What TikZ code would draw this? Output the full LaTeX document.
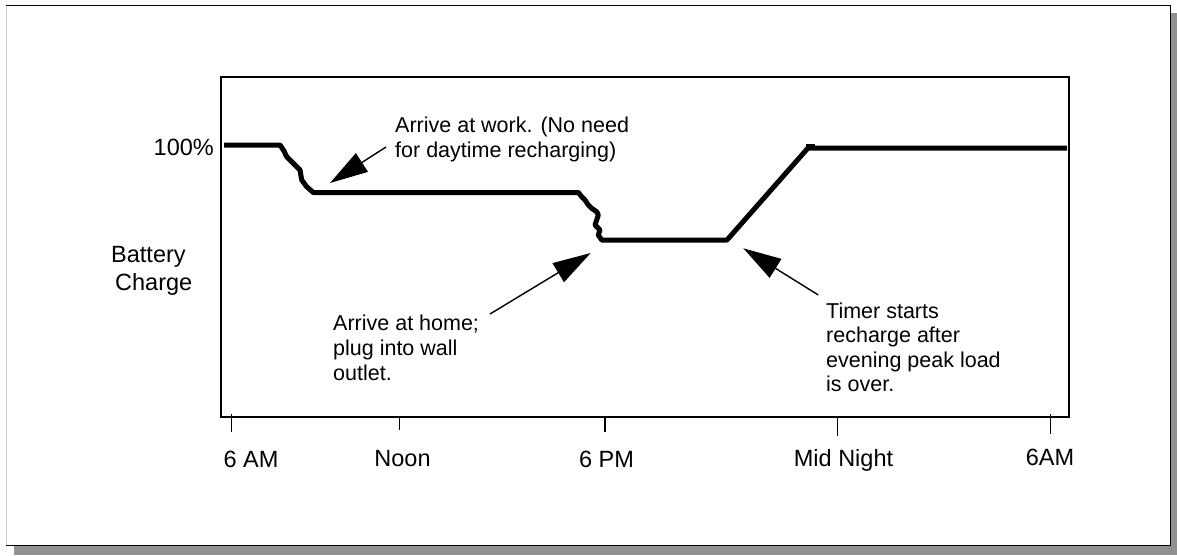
\documentclass[tikz,border=0pt]{standalone}
\usepackage{fontspec}
\setmainfont{Liberation Sans}
\usetikzlibrary{arrows.meta}
\definecolor{shadowgray}{RGB}{145,145,145}
\definecolor{edgegray}{RGB}{205,205,205}
\begin{document}
\begin{tikzpicture}[x=1pt,y=-1pt,
  axlab/.style={font=\fontsize{23.5}{28}\selectfont, inner sep=0pt},
  note/.style={font=\fontsize{21.5}{25}\selectfont, inner sep=0pt, anchor=base west},
  chargeline/.style={line width=5pt, line join=round},
  callout/.style={line width=1.4pt, -{Triangle[length=38pt,width=22pt]}},
  tickmark/.style={line width=1.3pt},
  plotbox/.style={line width=1.3pt}]
\useasboundingbox (0,0) rectangle (1177,555);
% frame with shadow
\fill[white] (0,0) rectangle (1177,555);
\fill[shadowgray] (14,13) rectangle (1177,555);
\fill[white] (6,5) rectangle (1170,545);
\draw[line width=1pt] (6,5) -- (1170,5) -- (1170,545) -- (6,545);
\draw[line width=1pt, edgegray] (6,5.5) -- (6,544.5);
% plot box
\coordinate (tl) at (221,77);
\coordinate (br) at (1069,417);
\draw[plotbox] (tl) rectangle (br);
% ticks
\coordinate (k1a) at (231.7,414); \coordinate (k1b) at (231.7,432);
\coordinate (k2a) at (399.7,417); \coordinate (k2b) at (399.7,430);
\coordinate (k3a) at (605,417);   \coordinate (k3b) at (605,432);
\coordinate (k4a) at (837.7,417); \coordinate (k4b) at (837.7,436);
\coordinate (k5a) at (1050.7,414);\coordinate (k5b) at (1050.7,434);
\draw[tickmark] (k1a) -- (k1b);
\draw[tickmark] (k2a) -- (k2b);
\draw[tickmark] (k3a) -- (k3b);
\draw[tickmark] (k4a) -- (k4b);
\draw[tickmark] (k5a) -- (k5b);
% axis labels
\node[axlab, anchor=base] (l6am) at (251,467) {6 AM};
\node[axlab, anchor=base] (lnoon) at (402.5,466) {Noon};
\node[axlab, anchor=base] (l6pm) at (606.5,467) {6 PM};
\node[axlab, anchor=base] (lmid) at (843.5,466) {Mid Night};
\node[axlab, anchor=base] (l6am2) at (1050,465) {6AM};
\node[axlab, anchor=base east] (l100) at (214,155) {100\%};
\node[axlab, anchor=base west] (lbat) at (111,262) {Battery};
\node[axlab, anchor=base west] (lchg) at (115,290) {Charge};
% battery charge curve
\draw[chargeline] (224,145) -- (280,145) -- (284,151) -- (286.7,156.7) -- (290,160)
  -- (293.3,163.3) -- (297,167) -- (300,170) -- (301.7,180) -- (306.7,186.7)
  -- (313.3,192.5) -- (578.3,192.5) -- (581.7,196.7) -- (585,200) -- (588.3,205)
  -- (591.7,208.3) -- (596.7,211.7) -- (598.3,215) -- (595,225) -- (600,230)
  -- (598.3,235) -- (601.7,240) -- (727,240) -- (808,148) -- (1067,148);
\draw[line width=4pt] (806,146) -- (815,146);
% callouts
\coordinate (workTail) at (386,147);
\coordinate (workTip) at (330,183);
\draw[callout] (workTail) -- (workTip);
\coordinate (homeTail) at (490,314);
\coordinate (homeTip) at (590.7,253);
\draw[callout] (homeTail) -- (homeTip);
\coordinate (timerTail) at (818.3,295);
\coordinate (timerTip) at (743.3,248.3);
\draw[callout] (timerTail) -- (timerTip);
% notes
\node[note] (w1) at (395,132) {Arrive at work. (No need};
\node[note] (w2) at (395,157) {for daytime recharging)};
\node[note] (h1) at (333,330) {Arrive at home;};
\node[note] (h2) at (333,355) {plug into wall};
\node[note] (h3) at (333,380) {outlet.};
\node[note] (t1) at (826,318) {Timer starts};
\node[note] (t2) at (826,342.5) {recharge after};
\node[note] (t3) at (826,367) {evening peak load};
\node[note] (t4) at (826,391.5) {is over.};
\end{tikzpicture}
\end{document}
